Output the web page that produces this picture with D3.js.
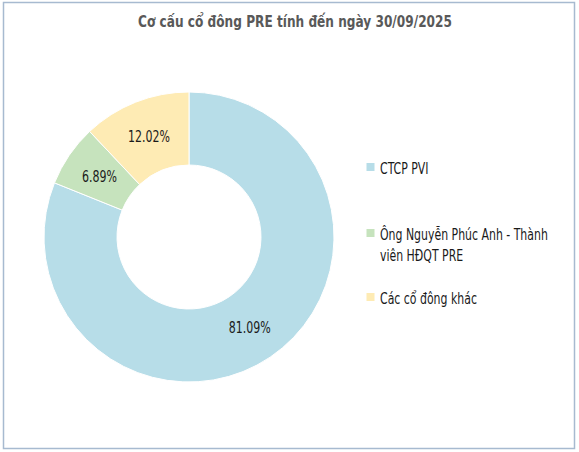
<!DOCTYPE html>
<html><head><meta charset="utf-8">
<script src="https://cdn.jsdelivr.net/npm/d3@7"></script>
<style>
html,body{margin:0;padding:0;background:#fff;}
text{font-family:'DejaVu Sans Condensed','Roboto',sans-serif;}
</style></head>
<body>
<svg id="chart" width="579" height="452"></svg>
<script>
const title = "Cơ cấu cổ đông PRE tính đến ngày 30/09/2025";
const categories = ["CTCP PVI", "Ông Nguyễn Phúc Anh - Thành viên HĐQT PRE", "Các cổ đông khác"];
const legendLines = [["CTCP PVI"], ["Ông Nguyễn Phúc Anh - Thành", "viên HĐQT PRE"], ["Các cổ đông khác"]];
const values = [81.09, 6.89, 12.02];
const colors = ["#b7dde8", "#c6e3bd", "#feebb4"];

const svg = d3.select("#chart");
svg.append("rect").attr("x",3.5).attr("y",2.5).attr("width",571).attr("height",446)
  .attr("fill","#fff").attr("stroke","#a7bad0").attr("stroke-width",1.5);

// measure helper: horizontal scale so the condensed look matches
function measure(str, size, weight){
  const t = svg.append("text").attr("font-size",size).attr("font-weight",weight||"normal").text(str);
  const w = t.node().getComputedTextLength(); t.remove(); return w;
}
const sxTitle = 314 / measure(title, 16, "bold");
const sxLeg = 168 / measure(legendLines[1][0], 15);
const sxLab = 42 / measure("12.02%", 16);

svg.append("text").attr("transform",`translate(295,27) scale(${sxTitle},1)`).attr("text-anchor","middle")
  .attr("font-size",16).attr("font-weight","bold").attr("fill","#595959").text(title);

const cx = 189, cy = 237, R = 145, r = 72;
const pie = d3.pie().sort(null).value(d=>d)(values);
const arc = d3.arc().innerRadius(r).outerRadius(R);
const lab = d3.arc().innerRadius((R+r)/2).outerRadius((R+r)/2);
const g = svg.append("g").attr("transform",`translate(${cx},${cy})`);
g.selectAll("path").data(pie).join("path").attr("d",arc)
  .attr("fill",(d,i)=>colors[i]).attr("stroke","#fff").attr("stroke-width",1);
g.selectAll("text.lbl").data(pie).join("text").attr("class","lbl")
  .attr("transform",d=>{const c=lab.centroid(d);return `translate(${c[0]},${c[1]+6}) scale(${sxLab},1)`;})
  .attr("text-anchor","middle")
  .attr("font-size",16).attr("fill","#1a1a1a")
  .text(d=>d.value.toFixed(2)+"%");

const ly = [167, 233, 297];
const lg = svg.append("g");
legendLines.forEach((lines,i)=>{
  lg.append("rect").attr("x",366.5).attr("y",ly[i]-4).attr("width",8).attr("height",8).attr("fill",colors[i]);
  lines.forEach((t,j)=>{
    lg.append("text").attr("transform",`translate(380,${ly[i]+7+j*20.5}) scale(${sxLeg},1)`)
      .attr("font-size",15).attr("fill","#1a1a1a").text(t);
  });
});
</script>
</body></html>
